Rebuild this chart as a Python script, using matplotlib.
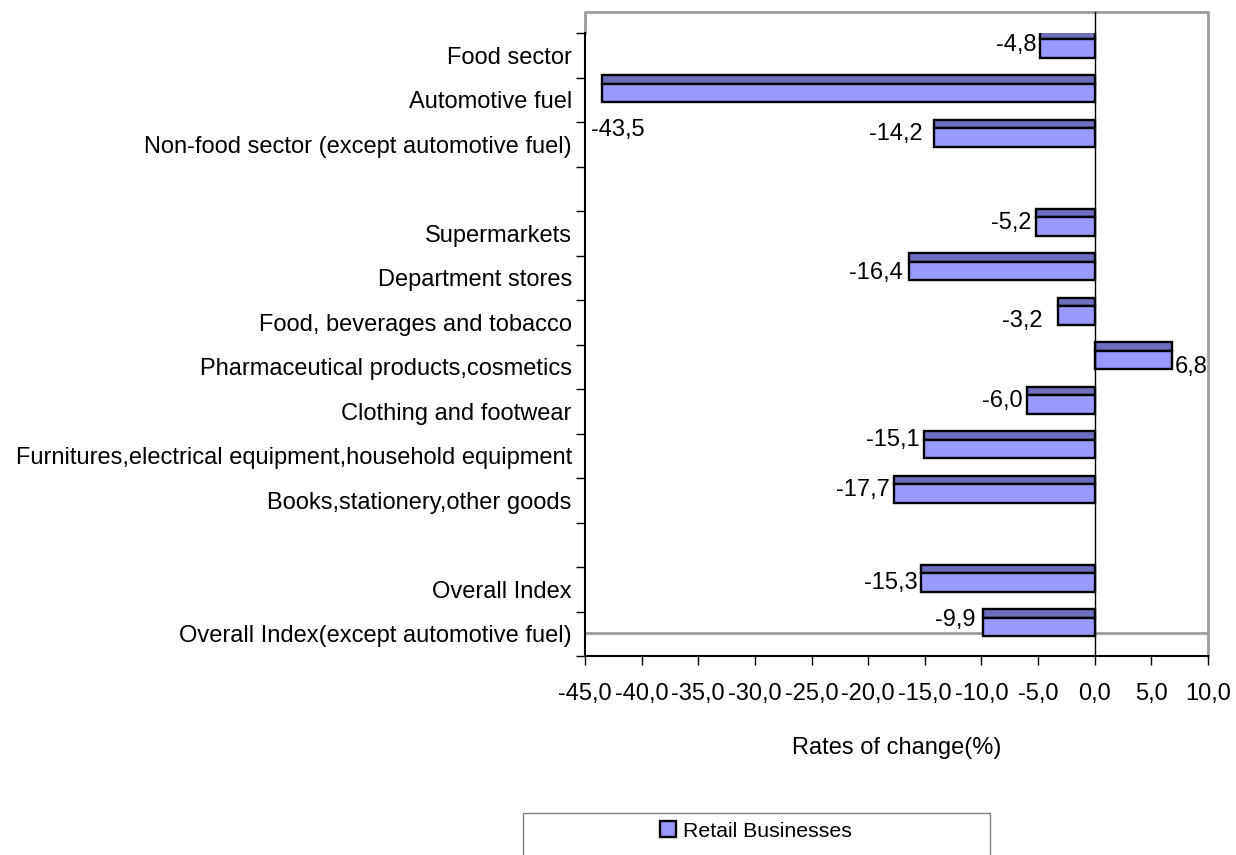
"""
Retail Businesses - rates of change per sector (horizontal 3D-look bars)
"""
import numpy as np
import matplotlib
matplotlib.use("Agg")
import matplotlib.pyplot as plt
from matplotlib import font_manager
from matplotlib.patches import Rectangle, Patch

# Data
categories = [
    "Food sector",
    "Automotive fuel",
    "Non-food sector (except automotive fuel)",
    "",
    "Supermarkets",
    "Department stores",
    "Food, beverages and tobacco",
    "Pharmaceutical products,cosmetics",
    "Clothing and footwear",
    "Furnitures,electrical equipment,household equipment",
    "Books,stationery,other goods",
    "",
    "Overall Index",
    "Overall Index(except automotive fuel)",
]
values = [-4.8, -43.5, -14.2, None, -5.2, -16.4, -3.2, 6.8, -6.0, -15.1, -17.7, None, -15.3, -9.9]
x_ticks = np.arange(-45, 11, 5)
series_name = "Retail Businesses"
x_label = "Rates of change(%)"

# Font: narrow if available (the original looks like Arial Narrow)
names = {f.name for f in font_manager.fontManager.ttflist}
if "Liberation Sans Narrow" in names:
    FAMILY, FS, LFS = "Liberation Sans Narrow", 20.5, 18.5
else:
    FAMILY, FS, LFS = "Liberation Sans", 17, 15.3
plt.rcParams["font.family"] = [FAMILY, "DejaVu Sans"]

FRONT = "#9999FF"
TOP = "#6F6FBF"
GRAY = "#9C9C9C"
W, H = 1236, 855
SLOT = (656 - 33) / 14.0          # pixels per category slot
DEPTH_TOP = 21 / SLOT             # back wall offset (slot units)
DEPTH_BOT = 23 / SLOT

fig = plt.figure(figsize=(W / 100, H / 100), dpi=100)
ax = fig.add_axes([585 / W, 1 - 656 / H, (1208 - 585) / W, (656 - 33) / H])
ax.set_xlim(-45, 10)
ax.set_ylim(len(categories) - 0.5, -0.5)

# back wall (grey) and floor line
top_y = -0.5 - DEPTH_TOP
floor_y = len(categories) - 0.5 - DEPTH_BOT
ax.plot([-45, -45, 10, 10], [-0.5, top_y, top_y, len(categories) - 0.5],
        color=GRAY, lw=2, clip_on=False, zorder=1)
ax.plot([-45, 10], [floor_y, floor_y], color=GRAY, lw=2, clip_on=False, zorder=1)
# zero line
ax.plot([0, 0], [top_y, len(categories) - 0.5], color="black", lw=1, clip_on=False, zorder=4)

# bars: dark top face + light front face
idx = [i for i, v in enumerate(values) if v is not None]
vals = [values[i] for i in idx]
pos = np.array(idx, dtype=float)
ax.barh(pos - 0.5 + 0.045, vals, height=0.18, color=TOP, edgecolor="black", lw=1.7, zorder=3)
ax.barh(pos - 0.5 + 0.3475, vals, height=0.425, color=FRONT, edgecolor="black", lw=1.7, zorder=3)

# data labels (offsets in pixels for the ones Excel pushed around)
label_offsets = {1: (-11, -41, "left"), 2: (-7, 0, None), 5: (-2, -6, None),
                 6: (-12, -9, None), 7: (3, -11, "left"), 9: (0, 5, None),
                 12: (0, -4, None), 13: (-3, 3, None)}
for i, v in zip(idx, vals):
    dx, dy, ha = label_offsets.get(i, (0, 0, None))
    if ha is None:
        ha = "right" if v < 0 else "left"
        base = -4 if v < 0 else 4
    else:
        base = 0
    ax.annotate(f"{v:.1f}".replace(".", ","), xy=(v, i - 0.24),
                xytext=(base + dx, dy), textcoords="offset pixels",
                ha=ha, va="center", fontsize=FS, zorder=5)

# y axis: ticks at slot boundaries, labels at slot centers
ax.set_yticks(np.arange(-0.5, len(categories)), labels=[""] * (len(categories) + 1))
ax.set_yticks(np.arange(len(categories)), labels=categories, minor=True)
ax.tick_params(axis="y", which="major", length=6.5, width=1, direction="out")
ax.tick_params(axis="y", which="minor", length=0, pad=9.5, labelsize=FS)

# x axis
ax.set_xticks(x_ticks, labels=[f"{t:.1f}".replace(".", ",") for t in x_ticks])
ax.tick_params(axis="x", length=6.5, width=1, direction="out", pad=13, labelsize=FS)
ax.set_xlabel(x_label, fontsize=FS, labelpad=23)

for s in ["top", "right"]:
    ax.spines[s].set_visible(False)
for s in ["left", "bottom"]:
    ax.spines[s].set_linewidth(1.5)
    ax.spines[s].set_zorder(4)

# legend with a box running off the bottom edge
fig.patches.append(Rectangle((523 / W, -0.1), (990 - 523) / W, 0.1 + 1 - 813 / H,
                             transform=fig.transFigure, fill=False,
                             edgecolor="#7F7F7F", lw=1))
handle = Patch(facecolor=FRONT, edgecolor="black", lw=1.7)
fig.legend([handle], [series_name], loc="center", bbox_to_anchor=(756 / W, 1 - 831 / H),
           frameon=False, fontsize=LFS, handlelength=0.75, handleheight=0.75,
           handletextpad=0.3)

fig.savefig("out.png", dpi=100)
